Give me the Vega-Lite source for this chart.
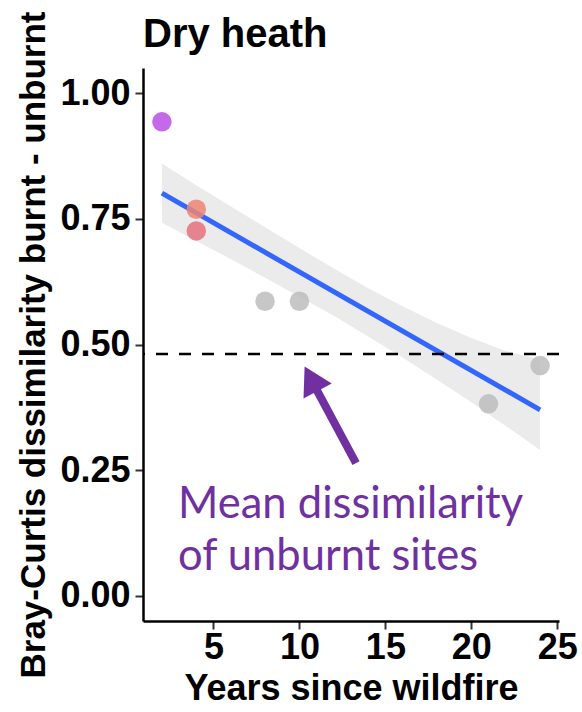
{
  "$schema": "https://vega.github.io/schema/vega-lite/v6.json",
  "width": 416,
  "height": 553,
  "autosize": {"type": "none"},
  "padding": {"left": 143, "top": 68, "right": 23, "bottom": 91},
  "title": {"text": "Dry heath", "anchor": "start", "frame": "group", "font": "Liberation Sans", "fontSize": 40, "fontWeight": "bold", "color": "black", "baseline": "alphabetic", "offset": -26, "dy": 50},
  "config": {
    "view": {"stroke": null},
    "axis": {"domainColor": "black", "domainWidth": 2.5, "tickColor": "#333333", "tickWidth": 2, "tickSize": 8, "labelFont": "Liberation Sans", "labelFontSize": 36, "labelFontWeight": "bold", "labelColor": "black", "titleFont": "Liberation Sans", "titleFontWeight": "bold", "titleColor": "black", "grid": false},
    "axisX": {"labelPadding": 1, "titleFontSize": 36, "titlePadding": 6},
    "axisY": {"labelPadding": 5, "titleFontSize": 35, "titlePadding": 8}
  },
  "datasets": {
    "points": [
      {"years": 2, "dissim": 0.943, "grp": "a"},
      {"years": 4, "dissim": 0.769, "grp": "b"},
      {"years": 4, "dissim": 0.726, "grp": "c"},
      {"years": 8, "dissim": 0.586, "grp": "d"},
      {"years": 10, "dissim": 0.586, "grp": "d"},
      {"years": 21, "dissim": 0.382, "grp": "d"},
      {"years": 24, "dissim": 0.458, "grp": "d"}
    ],
    "band": [
      {"years": 2, "lower": 0.742, "upper": 0.860},
      {"years": 4, "lower": 0.706, "upper": 0.817},
      {"years": 6, "lower": 0.670, "upper": 0.775},
      {"years": 8, "lower": 0.633, "upper": 0.733},
      {"years": 10, "lower": 0.595, "upper": 0.692},
      {"years": 12, "lower": 0.557, "upper": 0.651},
      {"years": 14, "lower": 0.516, "upper": 0.612},
      {"years": 16, "lower": 0.474, "upper": 0.576},
      {"years": 18, "lower": 0.430, "upper": 0.543},
      {"years": 20, "lower": 0.385, "upper": 0.513},
      {"years": 22, "lower": 0.338, "upper": 0.487},
      {"years": 24, "lower": 0.290, "upper": 0.470}
    ],
    "fit": [
      {"years": 2, "dissim": 0.801},
      {"years": 24, "dissim": 0.370}
    ],
    "mean": [{"dissim": 0.481}],
    "arrow": [{"years": 13.29, "dissim": 0.264, "years2": 11.0, "dissim2": 0.41}],
    "head": [{"years": 10.68, "dissim": 0.432}],
    "labels": [
      {"years": 2.94, "dissim": 0.155, "text": "Mean dissimilarity"},
      {"years": 2.94, "dissim": 0.051, "text": "of unburnt sites"}
    ]
  },
  "layer": [
    {
      "data": {"name": "band"},
      "mark": {"type": "area", "color": "#EBEBEB", "opacity": 1},
      "encoding": {
        "x": {"field": "years", "type": "quantitative", "scale": {"domain": [0.9, 25.1], "nice": false, "zero": false}, "axis": {"values": [5, 10, 15, 20, 25], "title": "Years since wildfire"}},
        "y": {"field": "lower", "type": "quantitative", "scale": {"domain": [-0.05, 1.05], "nice": false, "zero": false}, "axis": {"values": [0, 0.25, 0.5, 0.75, 1], "format": ".2f", "title": "Bray-Curtis dissimilarity burnt - unburnt"}},
        "y2": {"field": "upper"}
      }
    },
    {
      "data": {"name": "fit"},
      "mark": {"type": "line", "color": "#3366FF", "strokeWidth": 5},
      "encoding": {
        "x": {"field": "years", "type": "quantitative", "title": "Years since wildfire"},
        "y": {"field": "dissim", "type": "quantitative", "title": "Bray-Curtis dissimilarity burnt - unburnt"}
      }
    },
    {
      "data": {"name": "mean"},
      "mark": {"type": "rule", "color": "black", "strokeWidth": 2.5, "strokeDash": [12, 11]},
      "encoding": {
        "y": {"field": "dissim", "type": "quantitative", "title": "Bray-Curtis dissimilarity burnt - unburnt"}
      }
    },
    {
      "data": {"name": "points"},
      "mark": {"type": "point", "filled": true, "size": 380, "opacity": 0.85},
      "encoding": {
        "x": {"field": "years", "type": "quantitative", "title": "Years since wildfire"},
        "y": {"field": "dissim", "type": "quantitative", "title": "Bray-Curtis dissimilarity burnt - unburnt"},
        "color": {"field": "grp", "type": "nominal", "scale": {"domain": ["a", "b", "c", "d"], "range": ["#B84FE6", "#EE8574", "#E5717E", "#BDBDBD"]}, "legend": null}
      }
    },
    {
      "data": {"name": "arrow"},
      "mark": {"type": "rule", "color": "#7030A0", "strokeWidth": 8, "strokeCap": "butt"},
      "encoding": {
        "x": {"field": "years", "type": "quantitative", "title": "Years since wildfire"},
        "y": {"field": "dissim", "type": "quantitative", "title": "Bray-Curtis dissimilarity burnt - unburnt"},
        "x2": {"field": "years2"},
        "y2": {"field": "dissim2"}
      }
    },
    {
      "data": {"name": "head"},
      "mark": {"type": "point", "shape": "triangle-up", "filled": true, "size": 1024, "angle": 332, "color": "#7030A0", "opacity": 1},
      "encoding": {
        "x": {"field": "years", "type": "quantitative", "title": "Years since wildfire"},
        "y": {"field": "dissim", "type": "quantitative", "title": "Bray-Curtis dissimilarity burnt - unburnt"}
      }
    },
    {
      "data": {"name": "labels"},
      "mark": {"type": "text", "align": "left", "baseline": "alphabetic", "font": "Lato", "fontSize": 43.5, "color": "#7030A0"},
      "encoding": {
        "x": {"field": "years", "type": "quantitative", "title": "Years since wildfire"},
        "y": {"field": "dissim", "type": "quantitative", "title": "Bray-Curtis dissimilarity burnt - unburnt"},
        "text": {"field": "text"}
      }
    }
  ]
}
